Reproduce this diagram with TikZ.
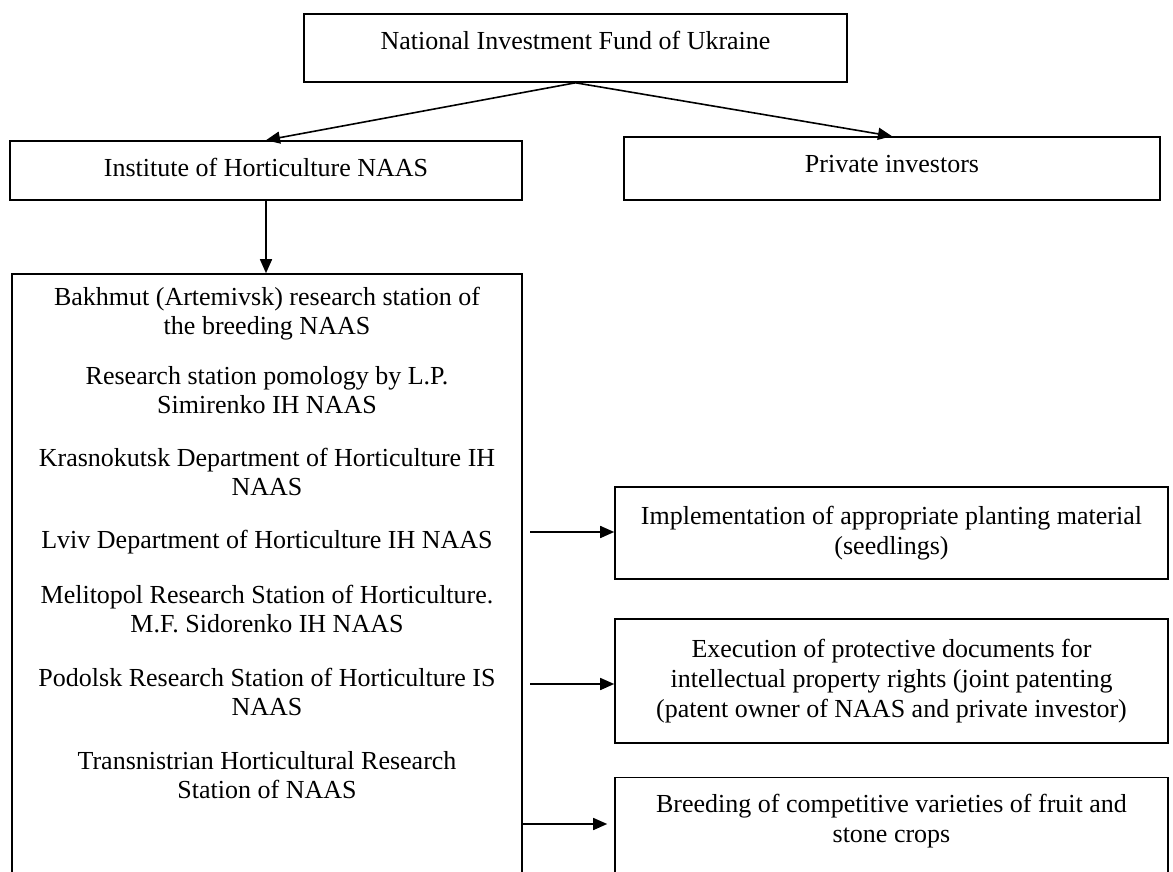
\documentclass[tikz,border=0pt]{standalone}
\usepackage{fontspec}
\setmainfont{Liberation Serif}
\usetikzlibrary{arrows.meta, positioning}
\tikzset{
	box/.style={draw, line width=1.6pt, rectangle, align=center, inner sep=0pt},
	item/.style={align=center, inner sep=0pt, anchor=base, font=\fontsize{26}{28.5}\selectfont},
	link/.style={line width=1.6pt, -{Triangle[length=14pt, width=12pt]}}
}

\begin{document}
\begin{tikzpicture}[x=1pt, y=-1pt, font=\fontsize{26}{30}\selectfont]
	\useasboundingbox (0,0) rectangle (1173,872);
	\clip (0,0) rectangle (1173,872);

	\node [box, minimum width=543pt, text height=36pt, text depth=32pt] (fund) at (575.5,48) {National Investment Fund of Ukraine};
	\node [box, minimum width=512pt, text height=35pt, text depth=24pt] (inst) at (266,170.5) {Institute of Horticulture NAAS};
	\node [box, minimum width=536pt, text height=35pt, text depth=28pt] (priv) at (892,168.5) {Private investors};

	\node [box, minimum width=510pt, minimum height=650pt] (stations) at (267,599) {};
	\node [item] (bakhmut) at (267,334) {Bakhmut (Artemivsk) research station of\\the breeding NAAS};
	\node [item] (simirenko) at (267,413) {Research station pomology by L.P.\\Simirenko IH NAAS};
	\node [item] (krasnokutsk) at (267,495) {Krasnokutsk Department of Horticulture IH\\NAAS};
	\node [item] (lviv) at (267,548) {Lviv Department of Horticulture IH NAAS};
	\node [item] (melitopol) at (267,632) {Melitopol Research Station of Horticulture.\\M.F. Sidorenko IH NAAS};
	\node [item] (podolsk) at (267,715) {Podolsk Research Station of Horticulture IS\\NAAS};
	\node [item] (transnistria) at (267,798) {Transnistrian Horticultural Research\\Station of NAAS};

	\node [box, minimum width=553pt, minimum height=92pt] (seedlings) at (891.5,533) {Implementation of appropriate planting material\\(seedlings)};
	\node [box, minimum width=553pt, minimum height=124pt] (patents) at (891.5,681) {Execution of protective documents for\\intellectual property rights (joint patenting\\(patent owner of NAAS and private investor)};
	\node [box, minimum width=553pt, inner ysep=16pt, text depth=40pt, anchor=base] (breeding) at (891.5,842) {Breeding of competitive varieties of fruit and\\stone crops};

	\draw [link] (fund.south) -- (inst.north);
	\draw [link] (fund.south) -- (priv.north);
	\draw [link] (inst.south) -- (inst.south |- stations.north);

	\coordinate (out1) at (530,532);
	\coordinate (out2) at (530,684);
	\coordinate (out3) at (stations.east |- 0,824);
	\draw [link] (out1) -- (out1 -| seedlings.west);
	\draw [link] (out2) -- (out2 -| patents.west);
	\draw [link] (out3) -- ([xshift=-7pt]out3 -| breeding.west);
\end{tikzpicture}
\end{document}
